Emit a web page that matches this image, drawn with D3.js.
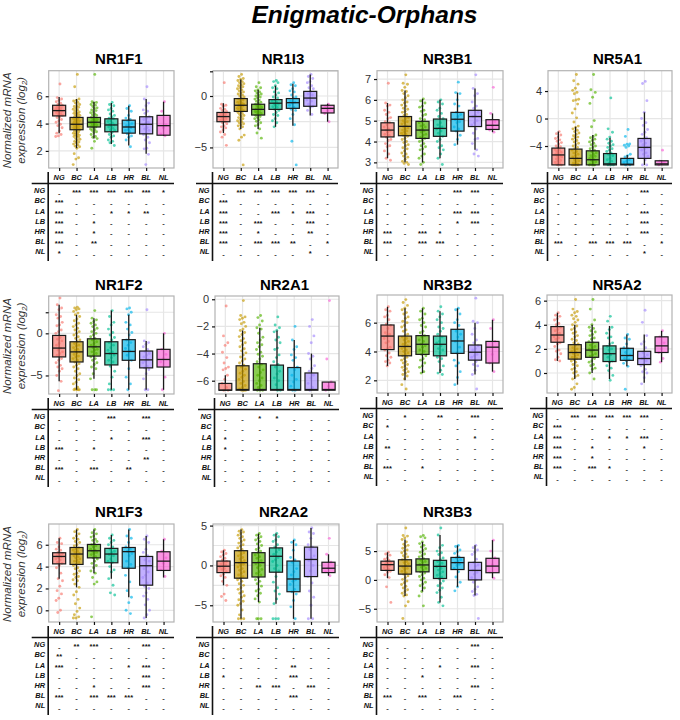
<!DOCTYPE html>
<html>
<head>
<meta charset="utf-8">
<script src="https://cdn.jsdelivr.net/npm/d3@7"></script>
<style>
html, body { margin: 0; padding: 0; background: #fff; }
svg { display: block; }
text { font-family: "Liberation Sans", Arial, sans-serif; }
</style>
</head>
<body>
<div id="chart"></div>
<script>
var groups = ["NG", "BC", "LA", "LB", "HR", "BL", "NL"];
var groupColours = ["#F8766D", "#C49A00", "#53B400", "#00C094", "#00B6EB", "#A58AFF", "#FB61D7"];

// box stats per group: low whisker, q1, median, q3, high whisker
var NR1F1_boxes = [[3.3,4.56,4.95,5.34,5.95],[2.2,3.55,3.95,4.45,5.8],[2.9,3.75,4.1,4.45,5.6],[2.5,3.4,3.9,4.35,5.5],[2.4,3.3,3.75,4.25,5.3],[1.8,3.25,3.95,4.5,5.8],[3.1,3.15,3.85,4.6,5.6]];
var NR1I3_boxes = [[-3.6,-2.5,-2,-1.6,-0.7],[-3.2,-1.5,-0.9,-0.25,1.6],[-3.2,-1.85,-1.3,-0.8,0.6],[-3,-1.3,-0.7,-0.35,1],[-2.9,-1.2,-0.65,-0.25,1.2],[-1.9,-1,-0.2,0.45,2.1],[-2.5,-1.65,-1.2,-0.9,-0.75]];
var NR3B1_boxes = [[3.2,4.22,4.55,4.9,5.85],[3,4.28,4.73,5.2,6.45],[3,4.15,4.55,4.97,6.05],[3.2,4.25,4.63,5.08,6],[3.85,4.5,5.07,5.4,6.35],[3.6,4.72,5.2,5.5,6.55],[4.45,4.58,4.78,5.05,5.35]];
var NR5A1_boxes = [[-6.75,-6.75,-5.3,-4.3,-1.9],[-6.75,-6.75,-5.8,-4.45,-1.2],[-6.75,-6.75,-6,-4.7,-2.4],[-6.75,-6.75,-6.6,-5.1,-2.8],[-6.75,-6.75,-6.65,-5.8,-5.3],[-6.75,-5.8,-4.2,-2.9,0.9],[-6.75,-6.75,-6.6,-6.15,-6.1]];
var NR1F2_boxes = [[-5.7,-2.8,-1.75,-0.25,3.4],[-6.7,-3.4,-2.2,-1,2.2],[-5.4,-2.7,-1.6,-0.65,1.8],[-6.7,-3.75,-2.4,-1,2.7],[-6.7,-3.2,-2.15,-0.75,2.2],[-6.7,-4.1,-3.15,-2.1,-0.9],[-6.7,-4,-3.1,-1.9,0]];
var NR2A1_boxes = [[-6.7,-6.7,-6.7,-6.2,-5.6],[-6.7,-6.7,-6.65,-4.9,-2.3],[-6.7,-6.7,-6.65,-4.75,-2.1],[-6.7,-6.7,-6.65,-4.85,-2.3],[-6.7,-6.7,-6.65,-5.03,-3],[-6.7,-6.7,-6.65,-5.43,-4],[-6.7,-6.7,-6.65,-6.1,-6.1]];
var NR3B2_boxes = [[3,4.13,5.07,5.84,7.1],[2,3.7,4.35,5.07,7],[2.5,3.8,4.5,5.1,7],[2.5,3.7,4.5,5.07,6.8],[1.7,3.87,4.73,5.54,7],[2.4,3.4,3.95,4.45,6],[2.6,3.2,4.3,4.7,6.2]];
var NR5A2_boxes = [[1,2.55,3.15,3.85,5],[-0.5,1.15,1.7,2.35,4],[0,1.3,1.9,2.55,4],[-0.5,0.95,1.6,2.25,3.9],[0.55,1.05,1.45,2.05,3.2],[-0.8,0.7,1.2,1.8,3.2],[0.9,1.7,2.25,3,3.5]];
var NR1F3_boxes = [[2.9,4.25,4.93,5.27,6.6],[2.1,4.2,5.15,5.75,7.4],[3.4,4.8,5.45,6.03,7.4],[2.9,4.35,5.15,5.67,6.9],[1.2,3.85,5.37,5.75,7.4],[-0.7,2.3,4.08,4.93,6.8],[3,3.65,4.5,5.36,6.5]];
var NR2A2_boxes = [[-2.5,-0.9,-0.1,0.55,1.9],[-6.7,-1.6,0.35,1.85,4.5],[-4.6,-1.45,0.35,1.6,4],[-4.8,-0.85,1.15,2.2,4],[-6.7,-3.3,-1.7,0.55,3.2],[-6.7,-1.4,0.75,2.3,4.7],[-1.3,-0.9,-0.35,0.4,1.4]];
var NR3B3_boxes = [[0.3,1.65,2.65,3.25,4.8],[-2.8,1,2.4,3.5,7],[-2,1.4,2.6,3.65,6.6],[-3.9,0.25,2.35,3.4,7.8],[-1.2,1.8,3,3.9,6],[-2.7,0,1.65,3.05,6],[0.3,1.25,2.4,3.75,6.9]];

var NR1F1_points = [
  [6.9,5.9,5.8,5.7,5.6,5.5,5.4,5.35,5.3,5.2,5.15,5.1,5.05,5,4.95,4.9,4.85,4.8,4.7,4.65,4.6,4.5,4.45,4.3,4.2,4.1,3.95,3.85,3.7,3.45,3.3,3.2,3.1,3.05],
  [7.6,6.7,5.8,5.7,5.65,5.55,5.5,5.4,5.3,5.25,5.2,5.1,5.05,5,4.9,4.85,4.8,4.75,4.7,4.65,4.6,4.55,4.5,4.45,4.4,4.35,4.3,4.25,4.2,4.15,4.1,4.05,4,3.95,3.9,3.85,3.8,3.75,3.7,3.65,3.6,3.55,3.5,3.45,3.4,3.35,3.3,3.25,3.2,3.15,3.1,3.05,3,2.9,2.85,2.8,2.7,2.65,2.6,2.5,2.45,2.35,2.3,2.2,1.8,1.5,1.4,1],
  [7.6,5.6,5.55,5.5,5.4,5.35,5.25,5.15,5.1,5,4.95,4.85,4.8,4.7,4.65,4.6,4.5,4.45,4.4,4.35,4.3,4.25,4.2,4.15,4.1,4.05,4,3.95,3.9,3.85,3.8,3.75,3.7,3.6,3.55,3.5,3.4,3.35,3.2,3.05,3,2.9,2.7,2.2],
  [5.55,5.4,5.3,5.1,5,4.9,4.7,4.6,4.5,4.4,4.35,4.2,4.15,4.05,3.95,3.9,3.8,3.75,3.65,3.55,3.5,3.35,3.2,3.1,3,2.8,2.7,2.6,2.4],
  [5.3,5.1,4.9,4.6,4.4,4.3,4.2,4,3.9,3.85,3.7,3.55,3.5,3.4,3.25,3.1,3,2.8,2.3],
  [6.7,5.8,5.5,5.3,5,4.9,4.75,4.5,4.4,4.3,4.1,4,3.9,3.7,3.6,3.5,3.3,3.2,3,2.8,2.6,2.2,2.15,1.75,1],
  [5.6,4.9,3.9,3.7,3.25,3.1]];
var NR1I3_points = [
  [1.3,-0.8,-0.9,-1,-1.2,-1.3,-1.4,-1.5,-1.6,-1.7,-1.8,-1.9,-1.95,-2.05,-2.1,-2.2,-2.3,-2.35,-2.5,-2.6,-2.7,-2.9,-3,-3.1,-3.3,-3.5,-3.75,-4,-4.8],
  [2.1,1.9,1.7,1.6,1.5,1.4,1.3,1.2,1.1,1,0.9,0.8,0.7,0.6,0.5,0.4,0.3,0.2,0.1,0,-0.1,-0.2,-0.3,-0.4,-0.5,-0.6,-0.7,-0.75,-0.8,-0.9,-0.95,-1,-1.1,-1.2,-1.25,-1.3,-1.4,-1.5,-1.6,-1.7,-1.8,-1.9,-2,-2.1,-2.2,-2.3,-2.4,-2.5,-2.6,-2.7,-2.8,-2.9,-3,-3.2,-3.8,-4,-4.3,-6.7],
  [1.3,0.9,0.8,0.6,0.5,0.4,0.3,0.2,0.1,0,-0.1,-0.2,-0.3,-0.4,-0.5,-0.6,-0.7,-0.8,-0.9,-1,-1.1,-1.15,-1.25,-1.3,-1.4,-1.5,-1.55,-1.6,-1.7,-1.8,-1.9,-2,-2.1,-2.2,-2.3,-2.45,-2.6,-2.8,-2.9,-3.2,-3.6,-4.1],
  [1.5,1.4,1.3,1,0.8,0.7,0.4,0.3,0.1,-0.1,-0.2,-0.4,-0.5,-0.6,-0.75,-0.8,-0.9,-1.05,-1.1,-1.3,-1.4,-1.6,-1.8,-1.9,-2.2,-2.4,-2.6,-3],
  [1.3,1.1,1,0.7,0.5,0.4,0.1,-0.1,-0.2,-0.5,-0.6,-0.7,-0.9,-1.1,-1.3,-1.4,-1.8,-2.2,-2.8,-4.4,-6.7],
  [2.1,1.9,1.7,1.4,1.3,1,0.8,0.7,0.4,0.2,0.1,-0.2,-0.4,-0.5,-0.8,-1,-1.1,-1.4,-1.8],
  [-0.8,-1,-1.2,-1.4,-1.7,-2.5]];
var NR3B1_points = [
  [6.8,5.85,5.75,5.7,5.5,5.4,5.3,5.15,5.1,4.95,4.9,4.8,4.7,4.6,4.55,4.5,4.45,4.35,4.3,4.2,4.1,4.05,3.9,3.8,3.75,3.55,3.4,3.2,3.1],
  [7.2,6.8,6.75,6.6,6.45,6.4,6.3,6.2,6.1,6,5.9,5.85,5.75,5.7,5.6,5.55,5.45,5.4,5.3,5.25,5.15,5.1,5,4.95,4.9,4.85,4.75,4.7,4.65,4.6,4.55,4.5,4.45,4.4,4.35,4.3,4.25,4.15,4.1,4,3.95,3.85,3.8,3.7,3.65,3.55,3.45,3.4,3.3,3.25,3.15,3.05,3,2.95,2.9],
  [6.05,5.95,5.85,5.7,5.65,5.5,5.45,5.3,5.25,5.1,5.05,4.95,4.9,4.8,4.75,4.7,4.6,4.55,4.5,4.45,4.35,4.3,4.2,4.15,4.05,4,3.9,3.8,3.75,3.65,3.6,3.4,3.3,3.2,3,2.9],
  [6,5.9,5.8,5.6,5.5,5.35,5.2,5.1,4.9,4.8,4.7,4.65,4.6,4.5,4.4,4.25,4.1,4,3.8,3.7,3.6,3.4,3.2,2.9],
  [6.85,6.35,6.3,6,5.8,5.7,5.4,5.3,5.2,5.05,4.95,4.9,4.7,4.6,4.5,4.3,4.1,3.85],
  [7.2,6.55,6.3,6.2,5.9,5.7,5.6,5.4,5.25,5.2,5,4.9,4.8,4.6,4.4,4.15,4.1,3.9,3.6,3.4,3.3],
  [6.6,5.35,4.95,4.75,4.55,4.45]];
var NR5A1_points = [
  [-1.9,-2.2,-2.4,-2.7,-2.9,-3.1,-3.3,-3.5,-3.7,-4,-4.1,-4.3,-4.5,-4.6,-4.8,-4.9,-5.1,-5.2,-5.4,-5.5,-5.6,-5.8,-5.9,-6.1,-6.2,-6.4,-6.5,-6.7,-6.75,-6.75],
  [6.4,5.5,5,4.4,4.1,3.8,3.6,2.8,2.7,2.6,2.1,1.4,0.8,0.1,-0.5,-1.1,-1.3,-1.5,-1.7,-1.9,-2.1,-2.3,-2.5,-2.7,-2.8,-3,-3.2,-3.4,-3.6,-3.8,-4,-4.2,-4.4,-4.6,-4.8,-5,-5.2,-5.4,-5.6,-5.8,-6,-6.15,-6.3,-6.45,-6.6,-6.7,-6.75,-6.75,-6.75,-6.75],
  [6.4,4.2,3.8,3.1,2.2,-0.3,-1.2,-2.4,-2.6,-2.8,-3,-3.2,-3.4,-3.6,-3.8,-4,-4.2,-4.4,-4.6,-4.8,-5,-5.2,-5.4,-5.5,-5.7,-5.8,-6,-6.1,-6.3,-6.4,-6.6,-6.75,-6.75,-6.75,-6.75],
  [3,-1.5,-2,-2.7,-3,-3.3,-3.6,-3.8,-4,-4.2,-4.4,-4.6,-4.8,-5,-5.2,-5.4,-5.8,-6,-6.2,-6.5,-6.75,-6.75,-6.75],
  [-1.6,-2.6,-3.7,-3.75,-3.9,-4,-4.2,-5.2,-5.4,-5.6,-6,-6.2,-6.4,-6.6,-6.75,-6.75],
  [5.4,5.1,2.6,0.9,0,-0.6,-1,-1.6,-2,-2.3,-2.8,-3,-3.3,-3.6,-3.8,-4.2,-4.4,-4.6,-5,-5.2,-5.5,-6,-6.75,-6.75],
  [-4.6,-6.2,-6.4,-6.6,-6.75]];
var NR1F2_points = [
  [4.2,3.4,3,2.8,2.2,2,1.8,1.3,1,0.9,0.4,0.2,0,-0.5,-0.7,-0.9,-1.2,-1.4,-1.75,-2,-2.2,-2.4,-2.6,-3,-3.2,-3.5,-3.8,-4,-4.2,-4.5,-5,-5.7,-6.8],
  [3.1,3,2.9,2.8,2.6,2.4,2.2,2,1.7,1.5,1.2,1,0.8,0.6,0.4,0.2,0,-0.2,-0.4,-0.6,-0.8,-1,-1.2,-1.4,-1.5,-1.7,-1.9,-2,-2.2,-2.3,-2.5,-2.7,-2.8,-3,-3.2,-3.4,-3.6,-3.8,-4,-4.2,-4.5,-4.8,-5,-5.3,-5.5,-5.8,-6,-6.4,-6.6,-6.7,-6.7,-6.7,-6.7],
  [2.7,1.8,1.6,1.4,1.2,1,0.8,0.6,0.4,0.2,0,-0.2,-0.4,-0.6,-0.8,-1,-1.2,-1.4,-1.6,-1.7,-1.9,-2,-2.2,-2.4,-2.6,-2.8,-3,-3.2,-3.5,-3.7,-4,-4.2,-4.8,-5.4,-6.7,-6.7,-6.7],
  [2.7,2,1.3,1,0.5,0.1,-0.2,-0.5,-0.8,-1.1,-1.4,-1.7,-2,-2.2,-2.4,-2.6,-2.9,-3.2,-3.4,-3.9,-4.5,-5.2,-6,-6.7,-6.7,-6.7],
  [3,2.9,2.5,2.2,1.3,1,0.5,0.1,-0.2,-0.8,-1.1,-1.4,-1.8,-2.1,-2.6,-3.2,-4.2,-5.2,-6,-6.7],
  [2.8,-0.9,-1.1,-1.3,-1.6,-1.9,-2.2,-2.4,-2.6,-2.8,-3.1,-3.3,-3.5,-3.9,-4.1,-4.3,-4.8,-5.4,-6.7,-6.7],
  [0,-1.9,-2.5,-3,-3.4,-5.2,-6.7]];
var NR2A1_points = [
  [-0.5,-2.7,-3.2,-3.4,-3.9,-4.3,-4.7,-5,-5.1,-5.2,-5.6,-5.9,-6.2,-6.5,-6.7,-6.7],
  [-0.1,-1.2,-1.3,-1.4,-1.5,-1.7,-1.8,-2,-2.2,-2.3,-2.45,-2.6,-2.75,-2.9,-3.05,-3.2,-3.35,-3.5,-3.65,-3.8,-3.95,-4.1,-4.25,-4.4,-4.55,-4.7,-4.85,-5,-5.15,-5.3,-5.45,-5.6,-5.75,-5.9,-6.05,-6.2,-6.35,-6.5,-6.6,-6.7,-6.7,-6.7,-6.7],
  [-1.2,-1.35,-1.6,-1.9,-2.1,-2.2,-2.5,-2.8,-3,-3.2,-3.35,-3.5,-3.7,-3.9,-4.05,-4.2,-4.4,-4.6,-4.8,-5,-5.2,-5.4,-5.6,-5.8,-6,-6.2,-6.35,-6.5,-6.7,-6.7,-6.7],
  [-1.3,-1.9,-2.1,-2.3,-2.4,-2.8,-3,-3.2,-3.6,-3.7,-4.1,-4.3,-4.6,-4.8,-5,-5.3,-5.5,-5.8,-6,-6.3,-6.7,-6.7],
  [-2,-3,-3.5,-3.7,-4.1,-4.3,-4.5,-5,-5.2,-5.6,-5.9,-6.1,-6.4,-6.7,-6.7],
  [-1.5,-2,-2.7,-3.2,-4,-4.2,-4.4,-4.9,-5.1,-5.3,-5.6,-5.8,-6.2,-6.5,-6.7],
  [-0.1,-4.4,-6.1,-6.4,-6.7]];
var NR3B2_points = [
  [7.1,6.9,6.8,6.5,6.4,6.2,5.9,5.8,5.6,5.3,5.2,5.1,4.9,4.7,4.6,4.3,4.2,4.1,3.9,3.7,3.6,3.4,3.3,3.2,3],
  [7.6,7.4,7.2,7,6.9,6.7,6.6,6.4,6.3,6.1,6,5.8,5.7,5.5,5.4,5.2,5.1,5,4.9,4.8,4.7,4.6,4.5,4.4,4.3,4.2,4.1,4,3.9,3.8,3.7,3.6,3.5,3.4,3.3,3.2,3.1,3,2.9,2.8,2.7,2.6,2.5,2.4,2.3,2.1,1.7,1.4],
  [7,6.8,6.6,6.3,6.2,6,5.8,5.7,5.4,5.3,5.1,5,4.8,4.7,4.5,4.4,4.3,4.1,4,3.8,3.7,3.5,3.4,3.2,3,2.9,2.6,2.5],
  [7.1,6.8,6.6,6.4,6.2,6,5.7,5.6,5.4,5.2,5,4.7,4.6,4.4,4.2,4.1,3.9,3.6,3.5,3.3,3,2.7,2.5,2.4],
  [7,6.9,6.6,6.2,6,5.8,5.4,5.2,5,4.7,4.3,3.9,3.4,3.2,3,2.6,2.2,1.7],
  [7.7,6.1,6,5.6,5.2,4.8,4.6,4.4,4.2,4.1,3.8,3.7,3.6,3.3,3.1,3,2.7,2.4,1.4],
  [6.2,5.6,4.7,3.8,3.2,2.6]];
var NR5A2_points = [
  [5,4.8,4.7,4.5,4.4,4.1,4,3.8,3.6,3.5,3.3,3.2,3,2.9,2.8,2.5,2.4,2.2,1.9,1.8,1.6,1.3,1.1,1],
  [6.1,5.3,5.1,5,4.8,4.7,4.5,4.4,4.2,4,3.9,3.7,3.6,3.4,3.3,3.1,3,2.8,2.7,2.5,2.4,2.3,2.1,2,1.9,1.8,1.7,1.6,1.5,1.4,1.3,1.2,1.1,1,0.9,0.7,0.6,0.4,0.3,0.1,0,-0.2,-0.3,-0.5,-0.9,-1.2,-1.35],
  [6.1,5.3,4.4,4,3.8,3.7,3.5,3.4,3.2,3.1,2.9,2.8,2.6,2.5,2.3,2.2,2.1,2,1.9,1.8,1.6,1.5,1.4,1.2,1,0.9,0.7,0.6,0.4,0.3,0,-0.5],
  [4.7,4.3,3.8,3.6,3.3,3,2.9,2.5,2.4,2.2,2,1.9,1.6,1.5,1.3,1,0.9,0.6,0.4,0.2,-0.2,-0.6],
  [3.2,2.9,2.8,2.4,2.1,2,1.7,1.5,1.4,1.2,1.1,1,0.8,0.55,-1.35],
  [5.2,4.2,3.1,2.6,2.4,2.1,1.7,1.5,1.3,1.2,1,0.7,0.6,0.3,0.1,0,-0.4,-0.9],
  [3.5,3,2.5,2,1.7,1.2,0.9]];
var NR1F3_points = [
  [6.6,6.2,6.1,5.8,5.6,5.5,5.3,5.2,5.1,5,4.9,4.8,4.7,4.6,4.4,4.3,4.1,3.9,3.4,2.9,2.7,2.2,1.8,1.5,1.1,0.9,0,-0.2],
  [7.4,7.2,7,6.8,6.6,6.5,6.3,6.2,6,5.9,5.7,5.6,5.5,5.4,5.3,5.2,5.1,5,4.9,4.8,4.7,4.6,4.5,4.4,4.2,4.1,3.9,3.8,3.6,3.4,3.3,3.1,3,2.8,2.7,2.4,2.1,1.7,1.4,1,0.6,0.2,-0.1,-0.4,-0.6,-0.7,-0.7],
  [7.4,7.1,7,6.8,6.7,6.5,6.4,6.3,6.1,6,5.9,5.8,5.6,5.5,5.4,5.3,5.2,5.1,4.9,4.8,4.7,4.5,4.3,4.1,3.9,3.6,3.4,3,2.6,2.4,-0.6],
  [6.9,6.6,6.4,6.2,6,5.8,5.6,5.4,5.3,5.1,5,4.7,4.5,4.4,4,3.7,3.5,2.9,2.3,1.6,1.4],
  [7.4,6.8,6.6,6.2,5.8,5.6,5.4,5.2,5,4.5,4.2,3.9,3.2,2.6,1.8,1.2,0.7,0,-0.3],
  [6.8,6.5,6.2,5.6,5.3,5,4.6,4.5,4,3.8,3.5,3.2,3,2.5,2.2,2,1.6,1.3,1,0.5,0,-0.4,-0.7],
  [6.5,5.4,4.8,4.3,3.7,3.1]];
var NR2A2_points = [
  [1.9,1.7,1.5,1.3,1.1,0.9,0.7,0.5,0.4,0.2,0.1,-0.1,-0.2,-0.4,-0.5,-0.8,-1.1,-1.3,-1.5,-2,-2.5,-3.6,-3.9,-4.4],
  [4.5,4.3,4.2,4,3.8,3.6,3.4,3.2,3,2.8,2.6,2.4,2.2,2,1.8,1.6,1.4,1.2,1,0.8,0.6,0.45,0.3,0.15,0,-0.2,-0.4,-0.6,-0.8,-1,-1.2,-1.4,-1.6,-1.8,-2,-2.3,-2.5,-2.8,-3,-3.3,-3.5,-3.8,-4,-4.3,-4.5,-4.8,-5,-5.6,-6.2,-6.7,-6.7,-6.7],
  [4,3.8,3.6,3.4,3.2,3,2.7,2.5,2.2,2,1.8,1.6,1.3,1.1,0.9,0.6,0.4,0.2,0,-0.3,-0.5,-0.8,-1,-1.2,-1.5,-1.8,-2,-2.3,-2.6,-3,-3.2,-3.5,-3.8,-4.2,-4.6,-6.7,-6.7,-6.7],
  [4,3.8,3.6,3.2,3,2.6,2.3,2,1.7,1.4,1,0.7,0.5,0,-0.4,-0.7,-1.4,-2.1,-2.8,-3.2,-3.6,-4.2,-4.8,-6.7,-6.7,-6.7],
  [3.2,2.9,2.6,1.9,1,0.7,0.4,-0.4,-0.8,-1.2,-1.8,-2,-2.4,-3,-3.3,-3.6,-4.4,-5.2,-6.7],
  [4.7,4.2,4,3.4,2.6,2.3,2,1.2,0.9,0.6,0,-0.7,-1.4,-2.2,-3.2,-4,-5,-6.7,-6.7],
  [3.4,1.4,0.4,-0.3,-0.8,-1.3]];
var NR3B3_points = [
  [4.8,4.5,4.3,3.8,3.6,3.4,3.2,3,2.8,2.7,2.5,2.4,2.1,1.9,1.7,1.5,1.3,0.9,0.4,-1.2,-3.9],
  [9,7.7,7.6,7.3,7,6.6,6.2,6,5.8,5.5,5.2,5,4.7,4.5,4.2,4,3.8,3.5,3.2,3,2.8,2.5,2.2,2,1.8,1.5,1.2,1,0.7,0.4,0.1,-0.2,-0.5,-0.8,-1.1,-1.4,-1.7,-2,-2.3,-2.6,-2.8,-3.8,-4.5,-6.7],
  [7.7,7.5,7.3,6.6,6.3,6,5.7,5.4,5.1,4.8,4.5,4.2,4,3.7,3.4,3.2,3,2.7,2.4,2.2,2,1.7,1.4,1.2,0.9,0.6,0.3,0,-0.4,-0.7,-1,-1.4,-2,-2.8,-4.5],
  [9,7.8,6,5.6,5,4.7,4.4,3.8,3.5,3.2,2.9,2.6,2.3,2,1.7,1.4,1.1,0.8,0.5,0.2,-0.2,-0.6,-1,-1.4,-1.8,-2.2,-3,-3.9,-4.5],
  [6,5.8,5.2,4.9,4.6,4,3.8,3.5,3.2,3,2.7,2.5,2,1.4,0.5,-0.4,-1.2,-1.9],
  [6,5.6,5.2,4.8,4.4,3.6,3,2.6,2.4,1.7,1.3,1,0.4,0,-0.4,-1.2,-1.6,-2,-2.5,-2.7,-6.7],
  [6.9,5,3.8,2.6,1.4,0.3]];

// pairwise significance, rows then columns in group order
var NR1F1_sig = ["- *** *** *** *** *** *","*** - - - - - -","*** - - * * ** -","*** - * - - - -","*** - * - - - -","*** - ** - - - -","* - - - - - -"];
var NR1I3_sig = ["- *** *** *** *** *** -","*** - - - - - -","*** - - *** * *** -","*** - *** - - *** -","*** - * - - ** -","*** - *** *** ** - *","- - - - - * -"];
var NR3B1_sig = ["- - - - *** *** -","- - - - - - -","- - - - *** *** -","- - - - * *** -","*** - *** * - - -","*** - *** *** - - -","- - - - - - -"];
var NR5A1_sig = ["- - - - - *** -","- - - - - - -","- - - - - *** -","- - - - - *** -","- - - - - *** -","*** - *** *** *** - *","- - - - - * -"];
var NR1F2_sig = ["- - - *** - *** -","- - - - - - -","- - - * - *** -","*** - * - - - -","- - - - - ** -","*** - *** - ** - -","- - - - - - -"];
var NR2A1_sig = ["- - * * - - -","- - - - - - -","* - - - - - -","* - - - - - -","- - - - - - -","- - - - - - -","- - - - - - -"];
var NR3B2_sig = ["- * - ** - *** -","* - - - - - -","- - - - - * -","** - - - - - -","- - - - - - -","*** - * - - - -","- - - - - - -"];
var NR5A2_sig = ["- *** *** *** *** *** -","*** - - - - - -","*** - - * * *** -","*** - * - - * -","*** - * - - - -","*** - *** * - - -","- - - - - - -"];
var NR1F3_sig = ["- ** *** - - *** -","** - - - - - -","*** - - - * *** -","- - - - - *** -","- - * - - *** -","*** - *** *** *** - -","- - - - - - -"];
var NR2A2_sig = ["- - - - - - -","- - - - - - -","- - - - ** - -","* - - - *** - -","- - ** *** - *** -","- - - - *** - -","- - - - - - -"];
var NR3B3_sig = ["- - - - - *** -","- - - - - - -","- - - * - *** -","- - * - - - -","- - - - - *** -","*** - *** - *** - -","- - - - - - -"];

// left, right, top, bottom of each plot area, title baseline
var panels = [
  {name: "NR1F1", boxes: NR1F1_boxes, points: NR1F1_points, sig: NR1F1_sig, x0: 48.7, x1: 174, y0: 70.7, y1: 168, dom: [0.75, 7.87], ticks: [2, 4, 6], marks: [], titleY: 64, ylab: true},
  {name: "NR1I3", boxes: NR1I3_boxes, points: NR1I3_points, sig: NR1I3_sig, x0: 213, x1: 338, y0: 70.7, y1: 168, dom: [-7.0, 2.46], ticks: [-5, 0], marks: [2.4], minor: [-2.5], titleY: 64},
  {name: "NR3B1", boxes: NR3B1_boxes, points: NR3B1_points, sig: NR3B1_sig, x0: 377, x1: 503, y0: 70.7, y1: 168, dom: [2.73, 7.4], ticks: [3, 4, 5, 6, 7], marks: [], titleY: 64},
  {name: "NR5A1", boxes: NR5A1_boxes, points: NR5A1_points, sig: NR5A1_sig, x0: 548, x1: 672, y0: 70.7, y1: 168, dom: [-7.2, 6.96], ticks: [-4, 0, 4], marks: [], titleY: 64},
  {name: "NR1F2", boxes: NR1F2_boxes, points: NR1F2_points, sig: NR1F2_sig, x0: 48.7, x1: 174, y0: 296, y1: 394, dom: [-7.2, 4.43], ticks: [-5, 0], marks: [2.5], titleY: 290, ylab: true},
  {name: "NR2A1", boxes: NR2A1_boxes, points: NR2A1_points, sig: NR2A1_sig, x0: 215, x1: 339, y0: 296, y1: 394, dom: [-6.98, 0.24], ticks: [-6, -4, -2, 0], marks: [], titleY: 290},
  {name: "NR3B2", boxes: NR3B2_boxes, points: NR3B2_points, sig: NR3B2_sig, x0: 377, x1: 503, y0: 295, y1: 393, dom: [1.12, 7.92], ticks: [2, 4, 6], marks: [], titleY: 290},
  {name: "NR5A2", boxes: NR5A2_boxes, points: NR5A2_points, sig: NR5A2_sig, x0: 547, x1: 672, y0: 295, y1: 393, dom: [-1.66, 6.47], ticks: [0, 2, 4, 6], marks: [], titleY: 290},
  {name: "NR1F3", boxes: NR1F3_boxes, points: NR1F3_points, sig: NR1F3_sig, x0: 48.7, x1: 174, y0: 524, y1: 622, dom: [-1.07, 7.9], ticks: [0, 2, 4, 6], marks: [], titleY: 517, ylab: true},
  {name: "NR2A2", boxes: NR2A2_boxes, points: NR2A2_points, sig: NR2A2_sig, x0: 213, x1: 339, y0: 524, y1: 622, dom: [-7.1, 5.2], ticks: [-5, 0, 5], marks: [], minor: [-2.5, 2.5], titleY: 517},
  {name: "NR3B3", boxes: NR3B3_boxes, points: NR3B3_points, sig: NR3B3_sig, x0: 377, x1: 503, y0: 524, y1: 622, dom: [-7.3, 9.7], ticks: [-5, 0, 5], marks: [], titleY: 517}
];

var svg = d3.select("#chart").append("svg")
  .attr("width", 680)
  .attr("height", 720);

svg.append("text")
  .attr("x", 364.5)
  .attr("y", 23)
  .attr("text-anchor", "middle")
  .style("font-size", "24.5px")
  .style("font-weight", "bold")
  .style("font-style", "italic")
  .text("Enigmatic-Orphans");

var minusFormat = function(d) {
  return d < 0 ? "\u2212" + Math.abs(d) : "" + d;
};

panels.forEach(function(p) {
  var g = svg.append("g").attr("class", "panel");

  var x = d3.scalePoint().domain(groups).range([p.x0, p.x1]).padding(0.6);
  var y = d3.scaleLinear().domain(p.dom).range([p.y1, p.y0]);

  // grid first, so the strips sit on top of it
  var gridY = p.ticks.concat(p.marks).concat(p.minor || []).filter(function(d) {
    return d > p.dom[0] && d < p.dom[1];
  });
  g.append("g").selectAll("line").data(gridY).enter().append("line")
    .attr("x1", p.x0).attr("x2", p.x1)
    .attr("y1", function(d) { return y(d); })
    .attr("y2", function(d) { return y(d); })
    .attr("stroke", "#e6e6e6").attr("stroke-width", 1.2);
  g.append("g").selectAll("line").data(groups).enter().append("line")
    .attr("x1", function(d) { return x(d); })
    .attr("x2", function(d) { return x(d); })
    .attr("y1", p.y0).attr("y2", p.y1)
    .attr("stroke", "#e6e6e6").attr("stroke-width", 1.2);

  // jittered points
  groups.forEach(function(name, gi) {
    var colour = groupColours[gi];
    g.append("g").selectAll("circle").data(p.points[gi]).enter().append("circle")
      .attr("cx", function(d, i) {
        return x(name) + (((i + 1) * 0.618) % 1 - 0.5) * 7;
      })
      .attr("cy", function(d) { return y(d); })
      .attr("r", 1.45)
      .attr("fill", colour)
      .attr("opacity", 0.65);
  });

  // boxes
  var boxWidth = x.step() * 0.75;
  groups.forEach(function(name, gi) {
    var b = p.boxes[gi];
    var cx = x(name);
    var box = g.append("g");
    box.append("line")
      .attr("x1", cx).attr("x2", cx)
      .attr("y1", y(b[0])).attr("y2", y(b[4]))
      .attr("stroke", "#1a1a1a").attr("stroke-width", 1.3);
    box.append("rect")
      .attr("x", cx - boxWidth / 2)
      .attr("y", y(b[3]))
      .attr("width", boxWidth)
      .attr("height", y(b[1]) - y(b[3]))
      .attr("fill", groupColours[gi])
      .attr("fill-opacity", 0.68)
      .attr("stroke", "#1a1a1a")
      .attr("stroke-width", 1.2);
    box.append("line")
      .attr("x1", cx - boxWidth / 2).attr("x2", cx + boxWidth / 2)
      .attr("y1", y(b[2])).attr("y2", y(b[2]))
      .attr("stroke", "#1a1a1a").attr("stroke-width", 1.3);
  });

  g.append("rect")
    .attr("x", p.x0).attr("y", p.y0)
    .attr("width", p.x1 - p.x0).attr("height", p.y1 - p.y0)
    .attr("fill", "none").attr("stroke", "#b3b3b3").attr("stroke-width", 1.2);

  var yAxis = d3.axisLeft(y)
    .tickValues(p.ticks.concat(p.marks))
    .tickSize(3)
    .tickFormat(function(d) { return p.marks.indexOf(d) >= 0 ? "" : minusFormat(d); });
  var yAxisG = g.append("g")
    .attr("transform", "translate(" + p.x0 + ",0)")
    .call(yAxis);
  yAxisG.select(".domain").remove();
  yAxisG.selectAll("line").attr("stroke", "#111").attr("stroke-width", 1.2);
  yAxisG.selectAll("text").attr("fill", "#333").style("font-size", "11px");

  var xAxis = d3.axisBottom(x).tickSize(3).tickFormat("");
  var xAxisG = g.append("g")
    .attr("transform", "translate(0," + p.y1 + ")")
    .call(xAxis);
  xAxisG.select(".domain").remove();
  xAxisG.selectAll("line").attr("stroke", "#111").attr("stroke-width", 1.2);

  g.append("text")
    .attr("x", (p.x0 + p.x1) / 2 + 7.5)
    .attr("y", p.titleY)
    .attr("text-anchor", "middle")
    .style("font-size", "15px")
    .style("font-weight", "bold")
    .text(p.name);

  // significance table under the plot
  var table = g.append("g");
  table.append("line")
    .attr("x1", p.x0 - 0.5).attr("x2", p.x0 - 0.5)
    .attr("y1", p.y1 + 4).attr("y2", p.y1 + 93)
    .attr("stroke", "#111").attr("stroke-width", 1.6);
  table.append("line")
    .attr("x1", p.x0 - 17).attr("x2", p.x1)
    .attr("y1", p.y1 + 15.5).attr("y2", p.y1 + 15.5)
    .attr("stroke", "#111").attr("stroke-width", 1.3);

  var labelStyle = function(sel) {
    sel.style("font-size", "7.4px")
      .style("font-weight", "bold")
      .style("font-style", "italic")
      .attr("fill", "#111");
  };
  table.selectAll("text.col").data(groups).enter().append("text")
    .attr("class", "col")
    .attr("x", function(d) { return x(d); })
    .attr("y", p.y1 + 12.2)
    .attr("text-anchor", "middle")
    .call(labelStyle)
    .text(function(d) { return d; });
  var rowY = function(i) { return p.y1 + 22.5 + i * 10.2; };
  table.selectAll("text.row").data(groups).enter().append("text")
    .attr("class", "row")
    .attr("x", p.x0 - 3.5)
    .attr("y", function(d, i) { return rowY(i) + 2.6; })
    .attr("text-anchor", "end")
    .call(labelStyle)
    .text(function(d) { return d; });

  p.sig.forEach(function(row, ri) {
    row.split(" ").forEach(function(s, ci) {
      table.append("text")
        .attr("x", x(groups[ci]))
        .attr("y", rowY(ri) + (s === "-" ? 5 : 4.6))
        .attr("text-anchor", "middle")
        .attr("fill", s === "-" ? "#444" : "#111")
        .style("font-size", "7.5px")
        .style("font-weight", "bold")
        .text(s);
    });
  });

  if (p.ylab) {
    var cy = (p.y0 + p.y1) / 2 + 1;
    var lab = g.append("g")
      .attr("transform", "translate(11," + cy + ") rotate(-90)");
    lab.append("text")
      .attr("text-anchor", "middle")
      .attr("fill", "#333")
      .style("font-size", "11.6px")
      .style("font-style", "italic")
      .text("Normalized mRNA");
    var second = lab.append("text")
      .attr("y", 13.5)
      .attr("text-anchor", "middle")
      .attr("fill", "#333")
      .style("font-size", "11.6px")
      .style("font-style", "italic");
    second.append("tspan").text("expression (log");
    second.append("tspan").attr("dy", 2.5).style("font-size", "7.5px").text("2");
    second.append("tspan").attr("dy", -2.5).text(")");
  }
});
</script>
</body>
</html>
